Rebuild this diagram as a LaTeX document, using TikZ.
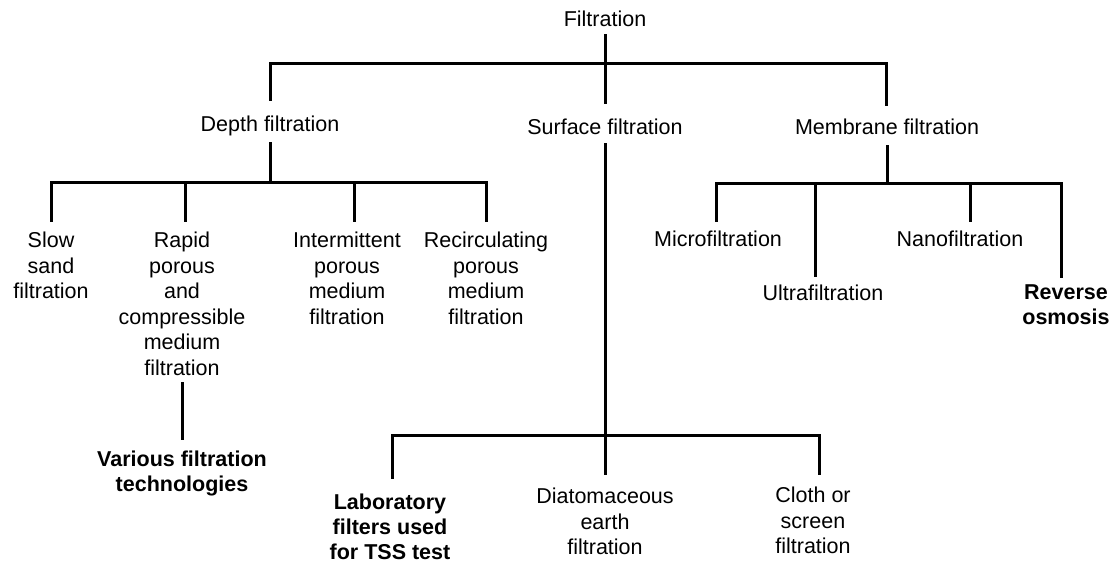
\documentclass[tikz,border=0pt]{standalone}
\usepackage{fontspec}
\setmainfont{Liberation Sans}
\usetikzlibrary{calc}
\begin{document}
\begin{tikzpicture}[x=1pt,y=-1pt,
  lbl/.style={font=\fontsize{21.5}{25.5}\selectfont, inner sep=0pt, outer sep=0pt, align=center},
  blbl/.style={lbl, font=\fontsize{21.5}{25}\selectfont\bfseries},
  ln/.style={line width=3pt, line cap=rect}]
\useasboundingbox[fill=white] (0,0) rectangle (1115,563);

% ---- level 0 and 1
\node[lbl,anchor=base] (root)  at (605,26)  {Filtration};
\node[lbl,anchor=base] (depth) at (270,131) {Depth filtration};
\node[lbl,anchor=base] (surf)  at (605,134) {Surface filtration};
\node[lbl,anchor=base] (memb)  at (887,134) {Membrane filtration};

% ---- depth children
\node[lbl,anchor=north] (slow)   at (51,232)  {Slow\\sand\\filtration};
\node[lbl,anchor=north] (rapid)  at (182,232) {Rapid\\porous\\and\\compressible\\medium\\filtration};
\node[lbl,anchor=north] (inter)  at (347,232) {Intermittent\\porous\\medium\\filtration};
\node[lbl,anchor=north] (recirc) at (486,232) {Recirculating\\porous\\medium\\filtration};
\node[blbl,anchor=north] (various) at (182,451) {Various filtration\\technologies};

% ---- membrane children
\node[lbl,anchor=base] (micro) at (718,246.5) {Microfiltration};
\node[lbl,anchor=base] (nano)  at (960,246.5) {Nanofiltration};
\node[lbl,anchor=base] (ultra) at (823,300.5) {Ultrafiltration};
\node[blbl,anchor=north] (rev) at (1066,285) {Reverse\\osmosis};

% ---- surface children
\node[blbl,anchor=north] (lab)   at (390,494) {Laboratory\\filters used\\for TSS test};
\node[lbl,anchor=north]  (diat)  at (605,488) {Diatomaceous\\earth\\filtration};
\node[lbl,anchor=north]  (cloth) at (813,487) {Cloth or\\screen\\filtration};

% ---- junction coordinates
\coordinate (tl) at (270,63);
\coordinate (tr) at (886,63);
\coordinate (dj) at (270,182);
\coordinate (dl) at (51,182);
\coordinate (d2) at (185,182);
\coordinate (d3) at (354,182);
\coordinate (dr) at (486,182);
\coordinate (mj) at (887,183);
\coordinate (ml) at (716,183);
\coordinate (m2) at (815,183);
\coordinate (m3) at (970,183);
\coordinate (mr) at (1061,183);
\coordinate (sl) at (392,435);
\coordinate (sr) at (819,435);

% ---- connectors level 0 -> 1
\draw[ln, shorten <=9pt, shorten >=16pt] (root) -- (surf);
\draw[ln] (tl) -- (tr);
\draw[ln, shorten >=16pt] (tl) -- (tl |- depth.north);
\draw[ln, shorten >=14pt] (tr) -- (tr |- memb.north);

% ---- depth filtration branch
\draw[ln, shorten <=8pt] (depth) -- (dj);
\draw[ln] (dl) -- (dr);
\draw[ln, shorten >=12pt] (dl) -- (dl |- slow.north);
\draw[ln, shorten >=12pt] (d2) -- (d2 |- rapid.north);
\draw[ln, shorten >=12pt] (d3) -- (d3 |- inter.north);
\draw[ln, shorten >=12pt] (dr) -- (dr |- recirc.north);
\draw[ln, shorten <=8pt, shorten >=13pt] (rapid) -- (various);

% ---- membrane filtration branch
\draw[ln, shorten <=12pt] (memb) -- (mj);
\draw[ln] (ml) -- (mr);
\draw[ln, shorten >=10pt] (ml) -- (ml |- micro.north);
\draw[ln, shorten >=9pt]  (m2) -- (m2 |- ultra.north);
\draw[ln, shorten >=10pt] (m3) -- (m3 |- nano.north);
\draw[ln, shorten >=9pt]  (mr) -- (mr |- rev.north);

% ---- surface filtration branch
\draw[ln, shorten <=10pt, shorten >=15pt] (surf) -- (diat);
\draw[ln] (sl) -- (sr);
\draw[ln, shorten >=17pt] (sl) -- (sl |- lab.north);
\draw[ln, shorten >=14pt] (sr) -- (sr |- cloth.north);
\end{tikzpicture}
\end{document}
